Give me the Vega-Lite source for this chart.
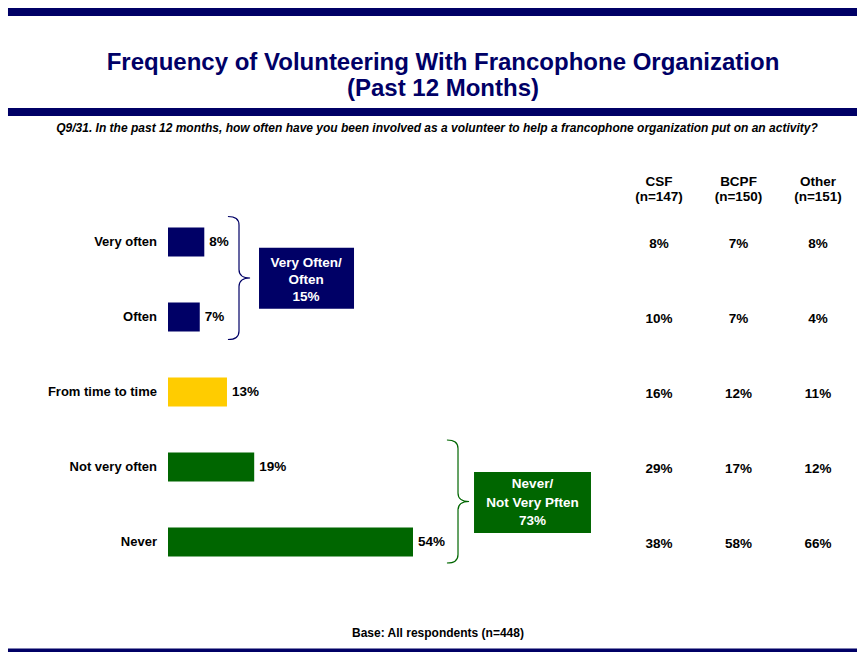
{
  "$schema": "https://vega.github.io/schema/vega-lite/v6.json",
  "width": 857,
  "height": 652,
  "padding": 0,
  "autosize": {"type": "none"},
  "background": "white",
  "config": {
    "view": {"stroke": null},
    "axis": {"disable": true},
    "scale": {"zero": false, "continuousPadding": 0},
    "text": {"font": "Liberation Sans", "fontWeight": "bold", "color": "black"}
  },
  "datasets": {
    "freq": [
      {"category": "Very often", "order": 1, "pct": 0.08, "net": "Often"},
      {"category": "Often", "order": 2, "pct": 0.07, "net": "Often"},
      {"category": "From time to time", "order": 3, "pct": 0.13, "net": "Sometimes"},
      {"category": "Not very often", "order": 4, "pct": 0.19, "net": "Rarely"},
      {"category": "Never", "order": 5, "pct": 0.54, "net": "Rarely"}
    ],
    "table": [
      {"category": "Very often", "order": 1, "segment": "CSF", "pct": 0.08},
      {"category": "Very often", "order": 1, "segment": "BCPF", "pct": 0.07},
      {"category": "Very often", "order": 1, "segment": "Other", "pct": 0.08},
      {"category": "Often", "order": 2, "segment": "CSF", "pct": 0.10},
      {"category": "Often", "order": 2, "segment": "BCPF", "pct": 0.07},
      {"category": "Often", "order": 2, "segment": "Other", "pct": 0.04},
      {"category": "From time to time", "order": 3, "segment": "CSF", "pct": 0.16},
      {"category": "From time to time", "order": 3, "segment": "BCPF", "pct": 0.12},
      {"category": "From time to time", "order": 3, "segment": "Other", "pct": 0.11},
      {"category": "Not very often", "order": 4, "segment": "CSF", "pct": 0.29},
      {"category": "Not very often", "order": 4, "segment": "BCPF", "pct": 0.17},
      {"category": "Not very often", "order": 4, "segment": "Other", "pct": 0.12},
      {"category": "Never", "order": 5, "segment": "CSF", "pct": 0.38},
      {"category": "Never", "order": 5, "segment": "BCPF", "pct": 0.58},
      {"category": "Never", "order": 5, "segment": "Other", "pct": 0.66}
    ],
    "headers": [
      {"segment": "CSF", "header": "CSF\n(n=147)"},
      {"segment": "BCPF", "header": "BCPF\n(n=150)"},
      {"segment": "Other", "header": "Other\n(n=151)"}
    ],
    "one": [{}]
  },
  "layer": [
    {
      "layer": [
        {
          "data": {"name": "freq"},
          "mark": {"type": "bar", "orient": "horizontal", "size": 29},
          "encoding": {
            "x": {"field": "pct", "type": "quantitative", "axis": null,
                  "scale": {"domain": [-0.37029, 1.51862], "nice": false, "zero": false, "padding": 0}},
            "y": {"field": "order", "type": "quantitative", "axis": null,
                  "scale": {"domain": [-2.2267, 6.4667], "reverse": true, "nice": false, "zero": false, "padding": 0}},
            "color": {"field": "net", "type": "nominal", "legend": null,
                      "scale": {"domain": ["Often", "Sometimes", "Rarely"], "range": ["#000066", "#FFCC00", "#006600"]}}
          }
        },
        {
          "data": {"name": "freq"},
          "mark": {"type": "text", "align": "left", "baseline": "middle", "dx": 5, "fontSize": 13.5},
          "encoding": {
            "x": {"field": "pct", "type": "quantitative"},
            "y": {"field": "order", "type": "quantitative"},
            "text": {"field": "pct", "type": "quantitative", "format": ".0%"}
          }
        },
        {
          "data": {"name": "freq"},
          "mark": {"type": "text", "align": "right", "baseline": "middle", "dx": -11, "fontSize": 13},
          "encoding": {
            "x": {"datum": 0},
            "y": {"field": "order", "type": "quantitative"},
            "text": {"field": "category", "type": "nominal"}
          }
        },
        {
          "data": {"name": "one"},
          "mark": {"type": "rect", "color": "#000066"},
          "encoding": {"x": {"datum": -0.3527}, "x2": {"datum": 1.52}, "y": {"datum": -2.12}, "y2": {"datum": -2.0133}}
        },
        {
          "data": {"name": "one"},
          "mark": {"type": "rect", "color": "#000066"},
          "encoding": {"x": {"datum": -0.3527}, "x2": {"datum": 1.52}, "y": {"datum": -0.7867}, "y2": {"datum": -0.68}}
        },
        {
          "data": {"name": "one"},
          "mark": {"type": "rect", "color": "#000066"},
          "encoding": {"x": {"datum": -0.3527}, "x2": {"datum": 1.52}, "y": {"datum": 6.42}, "y2": {"datum": 6.4667}}
        },
        {
          "data": {"name": "one"},
          "mark": {"type": "text", "align": "center", "baseline": "middle", "fontSize": 24, "lineHeight": 26, "color": "#000066"},
          "encoding": {
            "x": {"datum": 0.6061},
            "y": {"datum": -1.3867},
            "text": {"value": ["Frequency of Volunteering With Francophone Organization", "(Past 12 Months)"]}
          }
        },
        {
          "data": {"name": "one"},
          "mark": {"type": "text", "align": "center", "baseline": "middle", "fontSize": 12, "fontStyle": "italic"},
          "encoding": {
            "x": {"datum": 0.5929},
            "y": {"datum": -0.52},
            "text": {"value": "Q9/31. In the past 12 months, how often have you been involved as a volunteer to help a francophone organization put on an activity?"}
          }
        },
        {
          "data": {"name": "one"},
          "mark": {"type": "text", "align": "center", "baseline": "middle", "fontSize": 12},
          "encoding": {
            "x": {"datum": 0.5951},
            "y": {"datum": 6.2133},
            "text": {"value": "Base: All respondents (n=448)"}
          }
        },
        {
          "data": {"name": "one"},
          "mark": {"type": "point", "filled": false, "opacity": 1, "size": 15129, "stroke": "#000066", "strokeWidth": 1.2,
                   "shape": "M -0.18 -1 C -0.06 -1 0 -0.96 0 -0.86 L 0 -0.14 C 0 -0.05 0.06 0 0.18 0 C 0.06 0 0 0.05 0 0.14 L 0 0.86 C 0 0.96 -0.06 1 -0.18 1"},
          "encoding": {"x": {"datum": 0.1565}, "y": {"datum": 1.48}}
        },
        {
          "data": {"name": "one"},
          "mark": {"type": "point", "filled": false, "opacity": 1, "size": 15129, "stroke": "#006600", "strokeWidth": 1.2,
                   "shape": "M -0.18 -1 C -0.06 -1 0 -0.96 0 -0.86 L 0 -0.14 C 0 -0.05 0.06 0 0.18 0 C 0.06 0 0 0.05 0 0.14 L 0 0.86 C 0 0.96 -0.06 1 -0.18 1"},
          "encoding": {"x": {"datum": 0.6392}, "y": {"datum": 4.46}}
        },
        {
          "data": {"name": "one"},
          "mark": {"type": "rect", "color": "#000066"},
          "encoding": {"x": {"datum": 0.2006}, "x2": {"datum": 0.41}, "y": {"datum": 1.076}, "y2": {"datum": 1.889}}
        },
        {
          "data": {"name": "one"},
          "mark": {"type": "text", "align": "center", "baseline": "middle", "fontSize": 13.5, "lineHeight": 17, "color": "white"},
          "encoding": {
            "x": {"datum": 0.3042},
            "y": {"datum": 1.276},
            "text": {"value": ["Very Often/", "Often", "15%"]}
          }
        },
        {
          "data": {"name": "one"},
          "mark": {"type": "rect", "color": "#006600"},
          "encoding": {"x": {"datum": 0.6745}, "x2": {"datum": 0.9323}, "y": {"datum": 4.0667}, "y2": {"datum": 4.88}}
        },
        {
          "data": {"name": "one"},
          "mark": {"type": "text", "align": "center", "baseline": "middle", "fontSize": 13.5, "lineHeight": 18.5, "color": "white"},
          "encoding": {
            "x": {"datum": 0.8034},
            "y": {"datum": 4.2267},
            "text": {"value": ["Never/", "Not Very Pften", "73%"]}
          }
        }
      ]
    },
    {
      "layer": [
        {
          "data": {"name": "headers"},
          "mark": {"type": "text", "align": "center", "baseline": "middle", "fontSize": 13.5, "lineHeight": 15, "lineBreak": "\n"},
          "encoding": {
            "x": {"field": "segment", "type": "nominal", "axis": null,
                  "scale": {"type": "point", "domain": ["CSF", "BCPF", "Other"], "range": [659, 818], "padding": 0}},
            "y": {"datum": 0.2},
            "text": {"field": "header", "type": "nominal"}
          }
        },
        {
          "data": {"name": "table"},
          "mark": {"type": "text", "align": "center", "baseline": "middle", "fontSize": 13.5, "dy": 2},
          "encoding": {
            "x": {"field": "segment", "type": "nominal"},
            "y": {"field": "order", "type": "quantitative"},
            "text": {"field": "pct", "type": "quantitative", "format": ".0%"}
          }
        }
      ]
    }
  ],
  "resolve": {"scale": {"x": "independent"}}
}
